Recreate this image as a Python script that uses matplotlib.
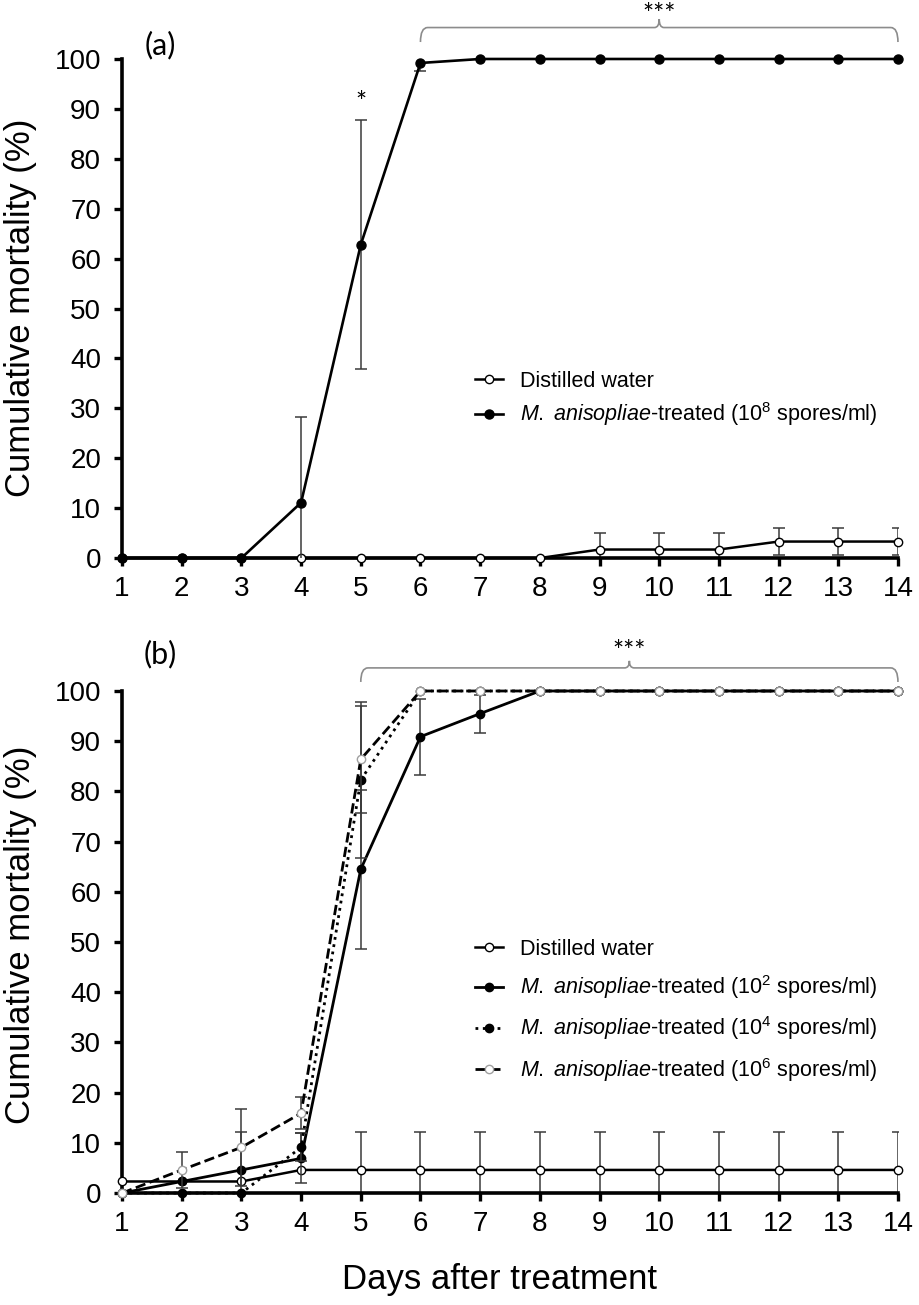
import matplotlib
matplotlib.use('Agg')
import matplotlib.pyplot as plt
from matplotlib.lines import Line2D
from matplotlib.path import Path
from matplotlib.patches import PathPatch
import numpy as np

days = np.arange(1, 15)

# panel (a): distilled water vs 10^8 spores/ml
a_water = [0, 0, 0, 0, 0, 0, 0, 0, 1.7, 1.7, 1.7, 3.3, 3.3, 3.3]
a_water_sd = [0, 0, 0, 0, 0, 0, 0, 0, 3.3, 3.3, 3.3, 2.7, 2.7, 2.7]
a_e8 = [0, 0, 0, 11.1, 62.8, 99.2, 100, 100, 100, 100, 100, 100, 100, 100]
a_e8_sd = [0, 0, 0, 17.2, 25.0, 1.6, 0, 0, 0, 0, 0, 0, 0, 0]

# panel (b): distilled water vs 10^2, 10^4, 10^6 spores/ml
b_water = [2.3, 2.3, 2.3, 4.6, 4.6, 4.6, 4.6, 4.6, 4.6, 4.6, 4.6, 4.6, 4.6, 4.6]
b_water_sd = [0, 0, 0, 0, 7.6, 7.6, 7.6, 7.6, 7.6, 7.6, 7.6, 7.6, 7.6, 7.6]
b_e2 = [0, 2.3, 4.6, 6.9, 64.5, 90.9, 95.5, 100, 100, 100, 100, 100, 100, 100]
b_e2_sd = [0, 0, 7.5, 5.0, 15.8, 7.6, 3.8, 0, 0, 0, 0, 0, 0, 0]
b_e4 = [0, 0, 0, 9.1, 82.3, 100, 100, 100, 100, 100, 100, 100, 100, 100]
b_e4_sd = [0, 0, 0, 2.8, 15.5, 0, 0, 0, 0, 0, 0, 0, 0, 0]
b_e6 = [0, 4.6, 9.1, 15.9, 86.4, 100, 100, 100, 100, 100, 100, 100, 100, 100]
b_e6_sd = [0, 3.6, 7.6, 3.2, 10.7, 0, 0, 0, 0, 0, 0, 0, 0, 0]

lab_water = 'Distilled water'
lab_treat = r'$\mathit{M.}$ $\mathit{anisopliae}$-treated (10$^{%d}$ spores/ml)'

plt.rcParams['font.family'] = ['Liberation Sans', 'DejaVu Sans']
plt.rcParams['mathtext.fontset'] = 'custom'
plt.rcParams['mathtext.rm'] = 'Liberation Sans'
plt.rcParams['mathtext.it'] = 'Liberation Sans:italic'

fig = plt.figure(figsize=(9.19, 13.05), dpi=100)
ax_a = fig.add_axes([0.1328, 0.5724, 0.8443, 0.3824])
ax_b = fig.add_axes([0.1328, 0.0858, 0.8443, 0.3847])


def draw(ax, vals, sd, ls, mfc, mec, ms, z, lw=2.0):
    v = np.array(vals, dtype=float)
    s = np.array(sd, dtype=float)
    m = s > 0
    if m.any():
        ax.errorbar(days[m], v[m], yerr=s[m], fmt='none', ecolor='#3a3a3a',
                    elinewidth=1.1, capsize=4.5, capthick=1.1, zorder=z - 0.5)
    ax.plot(days, v, ls=ls, color='black', lw=lw, marker='o', ms=ms,
            mfc=mfc, mec=mec, mew=1.0, clip_on=False, zorder=z)
    return Line2D([], [], ls=ls, color='black', lw=lw, marker='o', ms=ms,
                  mfc=mfc, mec=mec, mew=1.0)


def brace(ax, x0, x1, y_end, y_line, y_tip):
    xc = (x0 + x1) / 2
    verts = [(x0, y_end), (x0, y_line), (x0 + 0.12, y_line),
             (xc - 0.08, y_line), (xc, y_line), (xc, y_tip),
             (xc, y_line), (xc + 0.08, y_line),
             (x1 - 0.12, y_line), (x1, y_line), (x1, y_end)]
    codes = [Path.MOVETO, Path.CURVE3, Path.CURVE3,
             Path.LINETO, Path.CURVE3, Path.CURVE3,
             Path.CURVE3, Path.CURVE3,
             Path.LINETO, Path.CURVE3, Path.CURVE3]
    ax.add_patch(PathPatch(Path(verts, codes), fc='none', ec='#8c8c8c',
                           lw=1.2, clip_on=False))


for ax in (ax_a, ax_b):
    ax.set_xlim(1, 14)
    ax.set_ylim(0, 100)
    ax.set_xticks(days)
    ax.set_yticks(np.arange(0, 101, 10))
    for side in ('top', 'right'):
        ax.spines[side].set_visible(False)
    for side in ('left', 'bottom'):
        ax.spines[side].set_linewidth(2.6)
    ax.tick_params(axis='both', direction='out', length=6, width=2.4,
                   labelsize=20)
    ax.tick_params(axis='y', pad=9)
    ax.tick_params(axis='x', pad=7)

# (a)
h1 = draw(ax_a, a_water, a_water_sd, '-', 'white', 'black', 6, 3, lw=1.8)
h2 = draw(ax_a, a_e8, a_e8_sd, '-', 'black', 'black', 6.5, 4, lw=1.9)
ax_a.legend([h1, h2], [lab_water, lab_treat % 8], loc='upper left',
            bbox_to_anchor=(475 / 919, 1 - 371 / 1305),
            bbox_transform=fig.transFigure, frameon=False, fontsize=15.5,
            handlelength=1.3, handletextpad=0.8, labelspacing=0.38,
            borderpad=0, borderaxespad=0)
ax_a.text(5, 91.0, '*', ha='center', va='center', fontsize=19,
          family='Lato')
brace(ax_a, 6, 14, 103.4, 106.3, 108.0)
ax_a.text(10, 108.8, '***', ha='center', va='center', fontsize=19,
          family='Lato', clip_on=False)

# (b)
g1 = draw(ax_b, b_water, b_water_sd, '-', 'white', 'black', 6, 3, lw=1.8)
g2 = draw(ax_b, b_e2, b_e2_sd, '-', 'black', 'black', 6, 4)
g3 = draw(ax_b, b_e4, b_e4_sd, ':', 'black', 'black', 6, 5)
g4 = draw(ax_b, b_e6, b_e6_sd, '--', 'white', '#a0a0a0', 6, 6)
ax_b.legend([g1, g2, g3, g4],
            [lab_water, lab_treat % 2, lab_treat % 4, lab_treat % 6],
            loc='upper left', bbox_to_anchor=(475 / 919, 1 - 939 / 1305),
            bbox_transform=fig.transFigure, frameon=False, fontsize=15.5,
            handlelength=1.3, handletextpad=0.8, labelspacing=0.62,
            borderpad=0, borderaxespad=0)
brace(ax_b, 5, 14, 101.8, 104.6, 106.0)
ax_b.text(9.5, 107.6, '***', ha='center', va='center', fontsize=19,
          family='Lato', clip_on=False)

fig.text(160 / 919, 1 - 45 / 1305, '(a)', ha='center', va='center',
         fontsize=22, family='Lato')
fig.text(160 / 919, 1 - 654 / 1305, '(b)', ha='center', va='center',
         fontsize=22, family='Lato')
fig.text(21 / 919, 1 - 308 / 1305, 'Cumulative mortality (%)', rotation=90,
         ha='center', va='center', fontsize=25)
fig.text(21 / 919, 1 - 935 / 1305, 'Cumulative mortality (%)', rotation=90,
         ha='center', va='center', fontsize=25)
fig.text(500 / 919, 1 - 1280 / 1305, 'Days after treatment', ha='center',
         va='center', fontsize=25)

fig.savefig('out.png', dpi=100)
